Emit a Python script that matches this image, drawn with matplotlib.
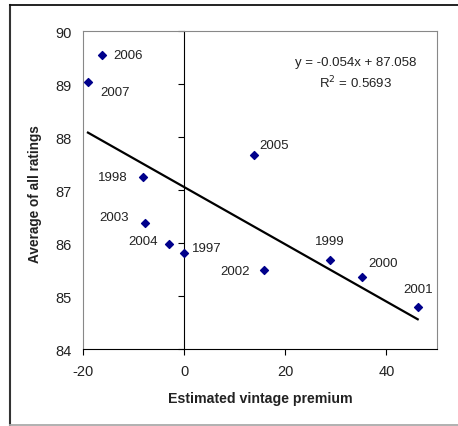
import matplotlib
matplotlib.use("Agg")
import matplotlib.pyplot as plt
import numpy as np
from matplotlib.lines import Line2D

plt.rcParams['font.family'] = ['Liberation Sans', 'DejaVu Sans']
plt.rcParams['axes.unicode_minus'] = False

years = ["2006", "2007", "1998", "2003", "2004", "1997", "2005", "2002", "1999", "2000", "2001"]
premium = [-16.2, -19.0, -8.1, -7.7, -2.9, 0.0, 13.8, 15.8, 28.9, 35.1, 46.2]
rating = [89.55, 89.04, 87.24, 86.38, 85.98, 85.81, 87.67, 85.50, 85.69, 85.36, 84.80]
slope = -0.054
intercept = 87.058
r2 = 0.5693
xticks = [-20, 0, 20, 40]
yticks = [84, 85, 86, 87, 88, 89, 90]

# label offsets (points) and alignment per year
label_pos = {
    "2006": ((8, 0), "left", "center"),
    "2007": ((9, -7), "left", "center"),
    "1998": ((-11, 0), "right", "center"),
    "2003": ((-12, 4), "right", "center"),
    "2004": ((-8, 2), "right", "center"),
    "1997": ((6, 4), "left", "center"),
    "2005": ((4, 7), "left", "center"),
    "2002": ((-10, -1), "right", "center"),
    "1999": ((0, 13), "center", "center"),
    "2000": ((5, 10), "left", "center"),
    "2001": ((0, 13), "center", "center"),
}

fig = plt.figure(figsize=(4.58, 4.27), dpi=100)
ax = fig.add_axes([0.181, 0.180, 0.773, 0.745])

ax.scatter(premium, rating, marker="D", s=16, color="#00008B", zorder=3)

xl = np.array([min(premium), max(premium)])
ax.plot(xl, slope * xl + intercept, color="black", lw=1.6, zorder=2)

for yr, x, y in zip(years, premium, rating):
    (dx, dy), ha, va = label_pos[yr]
    ax.annotate(yr, (x, y), xytext=(dx, dy), textcoords="offset points",
                ha=ha, va=va, fontsize=9.5, color="#222222")

ax.text(0.77, 0.904, f"y = {slope}x + {intercept}", transform=ax.transAxes,
        ha="center", va="center", fontsize=9.5, color="#222222")
ax.text(0.77, 0.841, f"R$^2$ = {r2}", transform=ax.transAxes,
        ha="center", va="center", fontsize=9.5, color="#222222")

ax.set_xlim(-20, 50)
ax.set_ylim(84, 90)
ax.set_xticks(xticks)
ax.set_yticks(yticks)

# y-axis line crossing at x = 0
ax.spines['left'].set_position(('data', 0))
ax.spines['left'].set_color("black")
ax.tick_params(axis='y', direction='out', length=4, labelleft=False, color="black")
ax.tick_params(axis='x', direction='out', length=4, labelsize=10.5, color="black",
               pad=7, labelcolor="#222222")
ax.spines['bottom'].set_color("black")
for s in ['top', 'right']:
    ax.spines[s].set_color("#888888")
    ax.spines[s].set_linewidth(0.8)

sec = ax.secondary_yaxis(0)
sec.set_yticks(yticks)
sec.tick_params(length=0, labelsize=10.5, pad=8, labelcolor="#222222")
sec.spines['left'].set_color("#888888")
sec.spines['left'].set_linewidth(0.8)

ax.set_xlabel("Estimated vintage premium", fontsize=10.2, fontweight="bold", labelpad=9,
              color="#222222")
fig.text(0.077, 0.545, "Average of all ratings", rotation=90, ha="center", va="center",
         fontsize=9.8, fontweight="bold", color="#222222")

# outer frame
fig.add_artist(Line2D([0.022, 0.022], [0.0, 0.986], transform=fig.transFigure, color="#333333", lw=1.5))
fig.add_artist(Line2D([0.022, 1.0], [0.986, 0.986], transform=fig.transFigure, color="#111111", lw=1.3))
fig.add_artist(Line2D([0.022, 1.0], [0.003, 0.003], transform=fig.transFigure, color="#aaaaaa", lw=1.3))

fig.savefig("out.png", dpi=100)
